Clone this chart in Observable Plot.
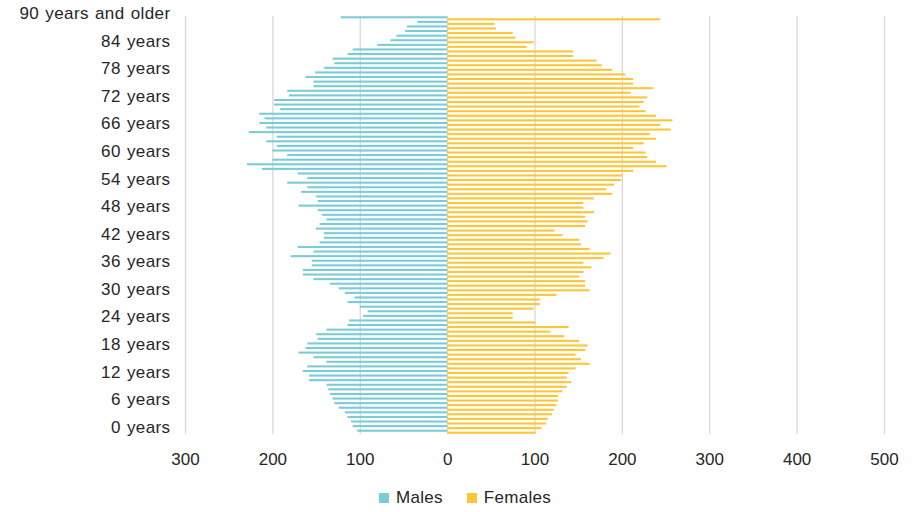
<!DOCTYPE html>
<html>
<head>
<meta charset="utf-8">
<script src="https://cdn.jsdelivr.net/npm/d3@7"></script>
<script src="https://cdn.jsdelivr.net/npm/@observablehq/plot@0.6"></script>
<style>
  html, body { margin: 0; padding: 0; background: #fff; }
  #chart { width: 922px; height: 512px; font-family: "Liberation Sans", Arial, sans-serif; color: #262626; }
  .legend { display: flex; justify-content: center; align-items: center; gap: 24px; font-size: 17px; margin-top: 8px; padding-left: 8px; }
  .legend span.sw { display: inline-block; width: 10px; height: 10px; margin-right: 7px; }
  .legend .item { display: flex; align-items: center; letter-spacing: 0.3px; }
  .ylab text { word-spacing: 1px; letter-spacing: 0.4px; }
</style>
</head>
<body>
<div id="chart"></div>
<script>
// Age categories, 0 .. 89 and "90+"
const ages = d3.range(90).map(String).concat("90+");

// Males, age 0 -> 90+
const males = [
  103, 108, 110, 114, 117, 124, 129, 131, 134, 136,
  138, 158, 158, 165, 160, 138, 153, 170, 162, 160,
  148, 150, 138, 114, 112, 96, 91, 100, 114, 106,
  117, 124, 134, 153, 165, 165, 155, 155, 179, 153,
  171, 146, 141, 141, 150, 146, 138, 143, 148, 170,
  148, 150, 167, 160, 183, 160, 171, 212, 229, 200,
  183, 200, 195, 207, 195, 227, 207, 215, 209, 215,
  191, 198, 198, 181, 183, 153, 153, 162, 151, 141,
  129, 131, 114, 108, 80, 65, 58, 48, 46, 34,
  122
];

// Females, age 0 -> 90+
const females = [
  101, 108, 113, 115, 120, 122, 125, 127, 127, 132,
  137, 142, 137, 139, 147, 163, 153, 147, 158, 161,
  151, 134, 118, 139, 101, 75, 75, 99, 106, 106,
  125, 163, 158, 158, 151, 156, 165, 156, 179, 187,
  163, 153, 151, 132, 123, 158, 161, 158, 168, 156,
  156, 168, 189, 182, 191, 199, 200, 213, 251, 239,
  229, 227, 213, 225, 239, 232, 256, 244, 258, 239,
  227, 220, 225, 229, 210, 236, 213, 213, 204, 189,
  177, 171, 144, 144, 91, 99, 78, 75, 56, 54,
  244
];

const xTicks = [-300, -200, -100, 0, 100, 200, 300, 400, 500];
const yTicks = ["0", "6", "12", "18", "24", "30", "36", "42", "48", "54", "60", "66", "72", "78", "84", "90+"];
const seriesNames = ["Males", "Females"];
const colors = ["#79cbd5", "#fbc535"];

const maleData = ages.map((a, i) => ({age: a, value: -males[i]}));
const femaleData = ages.map((a, i) => ({age: a, value: females[i]}));

const plot = Plot.plot({
  width: 922,
  height: 480,
  marginLeft: 185,
  marginRight: 38,
  marginTop: 16,
  marginBottom: 46,
  style: {fontFamily: "'Liberation Sans', Arial, sans-serif", fontSize: "17px", color: "#262626", background: "#fff"},
  x: {domain: [-300, 500], label: null},
  y: {domain: ages.slice().reverse(), paddingInner: 0.55, paddingOuter: 0.275, align: 0.5, label: null},
  marks: [
    Plot.gridX(xTicks, {stroke: "#d9d9d9", strokeOpacity: 1, strokeWidth: 1.3}),
    Plot.barX(maleData, {x: "value", y: "age", fill: colors[0], dy: -1}),
    Plot.barX(femaleData, {x: "value", y: "age", fill: colors[1], dy: 1}),
    Plot.axisX({ticks: xTicks, tickSize: 0, tickPadding: 18, tickFormat: d => Math.abs(d), fontSize: 17, label: null}),
    Plot.axisY({ticks: yTicks, tickSize: 0, tickPadding: 15, fontSize: 17, dy: -5, label: null, className: "ylab",
      tickFormat: a => a === "90+" ? "90 years and older" : a + " years"})
  ]
});

const root = document.getElementById("chart");
root.appendChild(plot);

const legend = document.createElement("div");
legend.className = "legend";
seriesNames.forEach((name, i) => {
  const item = document.createElement("div");
  item.className = "item";
  const sw = document.createElement("span");
  sw.className = "sw";
  sw.style.background = colors[i];
  item.appendChild(sw);
  item.appendChild(document.createTextNode(name));
  legend.appendChild(item);
});
root.appendChild(legend);
</script>
</body>
</html>
